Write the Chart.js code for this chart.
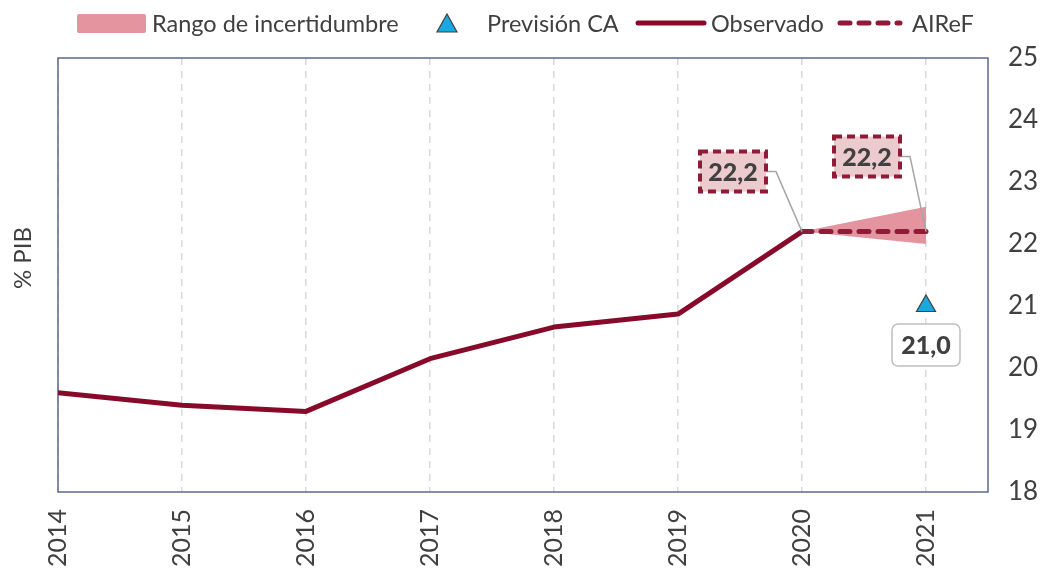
<!DOCTYPE html>
<html>
<head>
<meta charset="utf-8">
<script src="https://cdn.jsdelivr.net/npm/chart.js@4/dist/chart.umd.min.js"></script>
<style>
html,body{margin:0;padding:0;background:#fff;}
canvas{display:block;}
</style>
</head>
<body>
<canvas id="c" width="1046" height="568"></canvas>
<script>
// ---- Data ----
const obsYears = [2014, 2015, 2016, 2017, 2018, 2019, 2020];
const observado = [19.6, 19.4, 19.3, 20.15, 20.66, 20.87, 22.2];
const fcYears = [2020, 2021];
const airef = [22.2, 22.2];
const bandUpper = [22.2, 22.6];
const bandLower = [22.2, 22.0];
const caYears = [2021];
const previsionCA = [21.0];
const yTicks = [18, 19, 20, 21, 22, 23, 24, 25];
const legendLabels = ['Rango de incertidumbre', 'Previsión CA', 'Observado', 'AIReF'];
const axisTitle = '% PIB';
const fmt = v => v.toFixed(1).replace('.', ',');

const FONT = 'Lato, "Open Sans", sans-serif';
const TXT = '#404040';
const RED = '#870A2B';
const RED2 = '#8E1B37';
const PINK = '#E3949E';
const BLUE = '#19A9E1';

const pts = (xs, ys) => xs.map((x, i) => ({x, y: ys[i]}));

const overlay = {
  id: 'overlay',
  beforeDatasetsDraw(chart) {
    const {ctx, chartArea: a} = chart;
    ctx.save();
    ctx.strokeStyle = '#5B6B8C';
    ctx.lineWidth = 1.5;
    ctx.strokeRect(a.left, a.top, a.right - a.left, a.bottom - a.top);
    ctx.restore();
  },
  afterDatasetsDraw(chart) {
    const {ctx, scales: {x, y}} = chart;
    ctx.save();
    const lbls = [
      {px: x.getPixelForValue(fcYears[0]), py: y.getPixelForValue(airef[0]), v: airef[0], dx: -69, dy: -60},
      {px: x.getPixelForValue(fcYears[1]), py: y.getPixelForValue(airef[1]), v: airef[1], dx: -59, dy: -75}
    ];
    ctx.font = '900 25px ' + FONT;
    ctx.textAlign = 'center';
    ctx.textBaseline = 'middle';
    lbls.forEach(l => {
      const cx = l.px + l.dx, cy = l.py + l.dy;
      const w = 66, h = 40;
      ctx.strokeStyle = '#A6A6A6';
      ctx.lineWidth = 1.5;
      ctx.setLineDash([]);
      ctx.beginPath();
      ctx.moveTo(cx + w / 2, cy);
      ctx.lineTo(cx + w / 2 + 10, cy);
      ctx.lineTo(l.px, l.py);
      ctx.stroke();
      ctx.fillStyle = '#EBCBCD';
      ctx.fillRect(cx - w / 2, cy - h / 2, w, h);
      ctx.strokeStyle = RED2;
      ctx.lineWidth = 4;
      ctx.setLineDash([8, 5]);
      ctx.strokeRect(cx - w / 2, cy - h / 2, w, h);
      ctx.setLineDash([]);
      ctx.fillStyle = TXT;
      ctx.fillText(fmt(l.v), cx, cy + 1);
    });
    const px = x.getPixelForValue(caYears[0]), py = y.getPixelForValue(previsionCA[0]);
    const cx = px, cy = py + 39, w = 68, h = 42;
    ctx.beginPath();
    ctx.roundRect(cx - w / 2, cy - h / 2, w, h, 6);
    ctx.fillStyle = '#fff';
    ctx.fill();
    ctx.strokeStyle = '#BFBFBF';
    ctx.lineWidth = 1.5;
    ctx.stroke();
    ctx.fillStyle = TXT;
    ctx.fillText(fmt(previsionCA[0]), cx, cy + 1);
    ctx.restore();
  },
  afterDraw(chart) {
    const {ctx} = chart;
    ctx.save();
    ctx.font = '24px ' + FONT;
    ctx.fillStyle = TXT;
    ctx.translate(23, 258);
    ctx.rotate(-Math.PI / 2);
    ctx.textAlign = 'center';
    ctx.textBaseline = 'middle';
    ctx.fillText(axisTitle, 0, 0);
    ctx.restore();

    ctx.save();
    ctx.font = '23.5px ' + FONT;
    ctx.fillStyle = TXT;
    ctx.textBaseline = 'middle';
    ctx.textAlign = 'left';
    const ly = 23;
    ctx.fillStyle = PINK;
    ctx.beginPath();
    ctx.roundRect(77, 14, 69, 19, 2);
    ctx.fill();
    ctx.fillStyle = TXT;
    ctx.fillText(legendLabels[0], 152, ly + 1);
    ctx.beginPath();
    ctx.moveTo(447, 14);
    ctx.lineTo(457, 32);
    ctx.lineTo(437, 32);
    ctx.closePath();
    ctx.fillStyle = BLUE;
    ctx.fill();
    ctx.strokeStyle = '#404040';
    ctx.lineWidth = 1.2;
    ctx.stroke();
    ctx.fillStyle = TXT;
    ctx.fillText(legendLabels[1], 487, ly + 1);
    ctx.strokeStyle = RED;
    ctx.lineWidth = 5;
    ctx.lineCap = 'round';
    ctx.beginPath();
    ctx.moveTo(638, ly);
    ctx.lineTo(704, ly);
    ctx.stroke();
    ctx.fillText(legendLabels[2], 711, ly + 1);
    ctx.strokeStyle = RED2;
    ctx.setLineDash([10, 9]);
    ctx.beginPath();
    ctx.moveTo(840, ly);
    ctx.lineTo(900, ly);
    ctx.stroke();
    ctx.setLineDash([]);
    ctx.fillText(legendLabels[3], 912, ly + 1);
    ctx.restore();
  }
};

new Chart(document.getElementById('c'), {
  type: 'line',
  data: {
    datasets: [
      {label: 'upper', data: pts(fcYears, bandUpper), borderWidth: 0, pointRadius: 0, fill: false, backgroundColor: PINK, borderColor: 'rgba(0,0,0,0)', order: 5},
      {label: 'Rango de incertidumbre', data: pts(fcYears, bandLower), borderWidth: 0, pointRadius: 0, fill: '-1', backgroundColor: PINK, borderColor: 'rgba(0,0,0,0)', order: 4},
      {label: 'Observado', data: pts(obsYears, observado), borderColor: RED, borderWidth: 5, pointRadius: 0, fill: false, borderJoinStyle: 'round', borderCapStyle: 'round', order: 3},
      {label: 'AIReF', data: pts(fcYears, airef), borderColor: RED2, borderWidth: 5, borderDash: [10, 9], borderCapStyle: 'round', pointRadius: 0, fill: false, order: 2},
      {label: 'Previsión CA', data: pts(caYears, previsionCA), showLine: false, pointStyle: 'triangle', pointRadius: 11, pointBackgroundColor: BLUE, pointBorderColor: '#404040', pointBorderWidth: 1.2, order: 1}
    ]
  },
  options: {
    responsive: false,
    animation: false,
    devicePixelRatio: 1,
    layout: {padding: {left: 58, top: 58, right: 0, bottom: 0}},
    plugins: {legend: {display: false}, tooltip: {enabled: false}},
    scales: {
      x: {
        type: 'linear',
        min: 2014,
        max: 2021.5,
        afterFit(s) { s.height = 76; },
        afterBuildTicks(s) { s.ticks = s.ticks.filter(t => Number.isInteger(t.value)); },
        ticks: {stepSize: 1, includeBounds: false, autoSkip: false, minRotation: 90, maxRotation: 90, padding: 17,
          color: TXT, font: {family: FONT, size: 25}, callback: v => String(v)},
        grid: {color: '#D9D9D9', lineWidth: 1.5, drawTicks: false},
        border: {display: false, dash: [7, 6]}
      },
      y: {
        position: 'right',
        min: 18,
        max: 25,
        afterFit(s) { s.width = 58; },
        afterBuildTicks(s) { s.ticks = yTicks.map(v => ({value: v})); },
        ticks: {stepSize: 1, padding: 20, color: TXT, font: {family: FONT, size: 26}},
        grid: {display: false, drawTicks: false},
        border: {display: false}
      }
    }
  },
  plugins: [overlay]
});
</script>
</body>
</html>
